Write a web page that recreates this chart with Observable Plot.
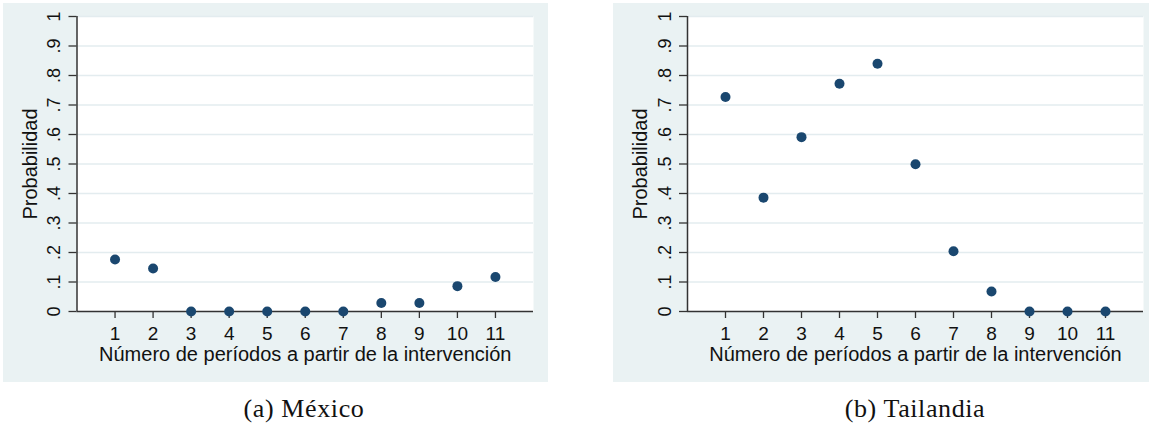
<!DOCTYPE html>
<html>
<head>
<meta charset="utf-8">
<script src="https://cdn.jsdelivr.net/npm/d3@7"></script>
<script src="https://cdn.jsdelivr.net/npm/@observablehq/plot@0.6"></script>
<style>
  html, body { margin: 0; padding: 0; background: #ffffff; }
  #wrap { position: relative; width: 1149px; height: 425px; overflow: hidden; }
  .panel { position: absolute; top: 3px; height: 379px; background: #eaf2f3; }
  .panel svg { display: block; }
  .cap { position: absolute; font-family: "Liberation Serif", "Times New Roman", serif; font-size: 26px; letter-spacing: 0.6px; color: #111; white-space: nowrap; transform: translateX(-50%); line-height: 1; }
</style>
</head>
<body>
<div id="wrap">
  <div class="panel" id="pA" style="left:3px;width:545px;"></div>
  <div class="panel" id="pB" style="left:613px;width:536px;"></div>
  <div class="cap" id="capA" style="left:304px;top:396px;"></div>
  <div class="cap" id="capB" style="left:915px;top:396px;"></div>
</div>
<script>
// ---- data ----
const periods = [1, 2, 3, 4, 5, 6, 7, 8, 9, 10, 11];
const mexico = [0.176, 0.146, 0, 0, 0, 0, 0, 0.029, 0.029, 0.086, 0.117];
const tailandia = [0.727, 0.386, 0.591, 0.772, 0.840, 0.499, 0.204, 0.068, 0, 0, 0];
const yTicks = [0, 0.1, 0.2, 0.3, 0.4, 0.5, 0.6, 0.7, 0.8, 0.9, 1];
const yTickLabels = ["0", ".1", ".2", ".3", ".4", ".5", ".6", ".7", ".8", ".9", "1"];
const xTicks = [1, 2, 3, 4, 5, 6, 7, 8, 9, 10, 11];
const yTitle = "Probabilidad";
const xTitle = "Número de períodos a partir de la intervención";
const captions = ["(a) México", "(b) Tailandia"];

const dotColor = "#1a476f";
const axisColor = "#333333";
const gridColor = "#e3ecef";

function panel(values, w, mLeft, mRight) {
  const rows = periods.map((p, i) => ({p, v: values[i]}));
  const yLab = yTicks.map((t, i) => ({t, s: yTickLabels[i]}));
  return Plot.plot({
    width: w,
    height: 379,
    marginLeft: mLeft,
    marginRight: mRight,
    marginTop: 13,
    marginBottom: 71,
    style: {background: "transparent", fontFamily: "'Liberation Sans', Arial, sans-serif", fontSize: "17px", color: "#111", overflow: "visible"},
    x: {domain: [0, 12], axis: null},
    y: {domain: [0, 1], axis: null},
    marks: [
      Plot.frame({fill: "white", stroke: null}),
      Plot.ruleY(yTicks.slice(1), {stroke: gridColor, strokeWidth: 1.6}),
      Plot.axisY({ticks: yTicks, tickSize: 8, tickFormat: () => "", stroke: axisColor, strokeWidth: 1.3, label: null}),
      Plot.text(yLab, {x: () => 0, y: "t", text: "s", rotate: -90, textAnchor: "middle", lineAnchor: "middle", dx: -22.5, fontSize: 18, fill: "#111"}),
      Plot.axisX({ticks: xTicks, tickSize: 7, tickPadding: 8, fontSize: 19, stroke: axisColor, strokeWidth: 1.3, fill: "#111", label: null}),
      Plot.ruleX([0], {stroke: axisColor, strokeWidth: 1.5}),
      Plot.ruleY([0], {stroke: axisColor, strokeWidth: 1.5}),
      Plot.text([yTitle], {frameAnchor: "left", dx: -46.8, rotate: -90, textAnchor: "middle", lineAnchor: "middle", fontSize: 20, text: d => d, fill: "#111"}),
      Plot.text([xTitle], {frameAnchor: "bottom", dy: 43, textAnchor: "middle", lineAnchor: "middle", fontSize: 20, text: d => d, fill: "#111"}),
      Plot.dot(rows, {x: "p", y: "v", r: 5, fill: dotColor, stroke: null})
    ]
  });
}

document.getElementById("pA").appendChild(panel(mexico, 545, 73.5, 15));
document.getElementById("pB").appendChild(panel(tailandia, 536, 74, 6));
document.getElementById("capA").textContent = captions[0];
document.getElementById("capB").textContent = captions[1];
</script>
</body>
</html>
